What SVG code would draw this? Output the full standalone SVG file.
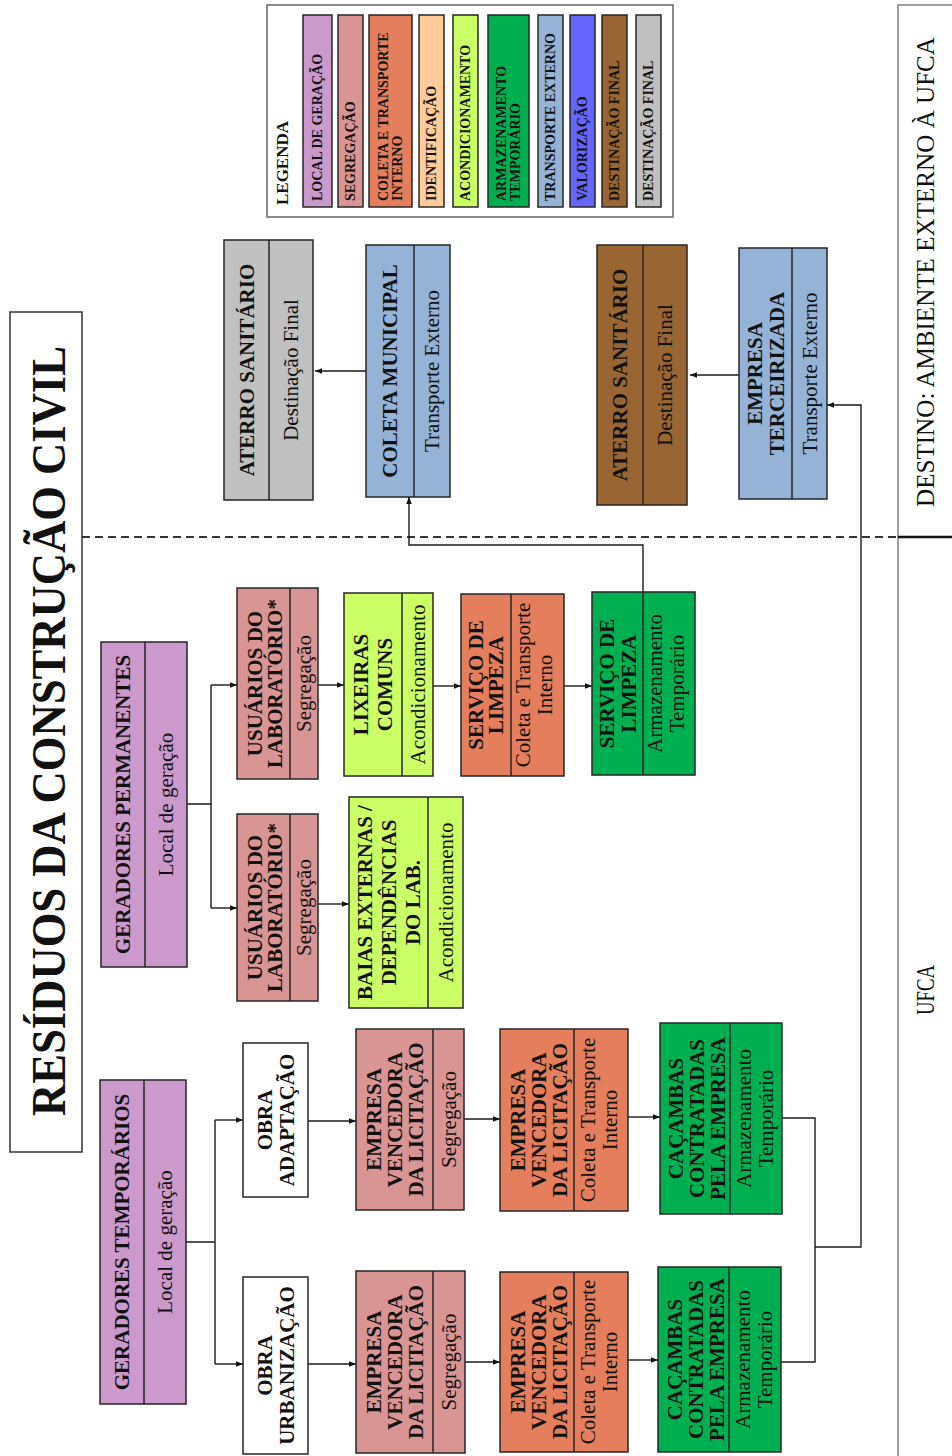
<svg xmlns="http://www.w3.org/2000/svg" width="952" height="1456" viewBox="0 0 952 1456">
<defs>
<style>
.n{stroke:#262626;stroke-width:1.5}
.d{stroke:#262626;stroke-width:1.5;fill:none}
.c{fill:none;stroke:#1a1a1a;stroke-width:1.4}
.b{font-family:"Liberation Serif","Times New Roman",serif;font-weight:bold;font-size:21px;text-anchor:middle;fill:#111}
.r{font-family:"Liberation Serif","Times New Roman",serif;font-size:21px;text-anchor:middle;fill:#111}
.lt{font-family:"Liberation Serif","Times New Roman",serif;font-weight:bold;font-size:14px;fill:#111}
.big{font-family:"Liberation Serif","Times New Roman",serif;font-weight:bold;font-size:48px;text-anchor:middle;fill:#111}
.zone{font-family:"Liberation Serif","Times New Roman",serif;font-size:26px;text-anchor:middle;fill:#111}
.leg{font-family:"Liberation Serif","Times New Roman",serif;font-weight:bold;font-size:17px;text-anchor:middle;fill:#111}
.f1{fill:#CC99CC}.f2{fill:#D99594}.f3{fill:#E47E5C}.f4{fill:#FFCC99}.f5{fill:#CCFF66}.f6{fill:#00B050}.f7{fill:#95B3D7}.f8{fill:#6666FF}.f9{fill:#996633}.f10{fill:#C0C0C0}.fw{fill:#fff}
</style>
<marker id="ah" viewBox="0 0 10 10" refX="10" refY="5" markerWidth="7" markerHeight="7" orient="auto" markerUnits="userSpaceOnUse"><path d="M0,1 L10,5 L0,9 z" fill="#111"/></marker>
</defs>
<rect x="0" y="0" width="952" height="1456" fill="#fff"/>

<g id="title">
<rect x="10" y="312" width="72" height="840" fill="#fff" stroke="#333" stroke-width="1.5"/>
<text class="big" transform="translate(65,731) rotate(-90)" textLength="770" lengthAdjust="spacingAndGlyphs">RESÍDUOS DA CONSTRUÇÃO CIVIL</text>
</g>

<g id="legend">
<rect x="267" y="5" width="406" height="212" fill="#fff" stroke="#666" stroke-width="1.5"/>
<text class="leg" transform="translate(288,163) rotate(-90)">LEGENDA</text>
<rect class="n f1" x="303" y="15" width="29" height="192"/>
<text class="lt" transform="translate(322,201) rotate(-90)">LOCAL DE GERAÇÃO</text>
<rect class="n f2" x="338" y="15" width="25" height="192"/>
<text class="lt" transform="translate(355,201) rotate(-90)">SEGREGAÇÃO</text>
<rect class="n f3" x="369" y="15" width="43" height="192"/>
<text class="lt" transform="translate(388,201) rotate(-90)"><tspan x="0" y="0">COLETA E TRANSPORTE</tspan><tspan x="0" y="14">INTERNO</tspan></text>
<rect class="n f4" x="419" y="15" width="25" height="192"/>
<text class="lt" transform="translate(436,201) rotate(-90)">IDENTIFICAÇÃO</text>
<rect class="n f5" x="453" y="15" width="25" height="192"/>
<text class="lt" transform="translate(470,201) rotate(-90)">ACONDICIONAMENTO</text>
<rect class="n f6" x="488" y="15" width="41" height="192"/>
<text class="lt" transform="translate(506,201) rotate(-90)"><tspan x="0" y="0">ARMAZENAMENTO</tspan><tspan x="0" y="14">TEMPORÁRIO</tspan></text>
<rect class="n f7" x="538" y="15" width="25" height="192"/>
<text class="lt" transform="translate(555,201) rotate(-90)">TRANSPORTE EXTERNO</text>
<rect class="n f8" x="570" y="15" width="25" height="192"/>
<text class="lt" transform="translate(587,201) rotate(-90)">VALORIZAÇÃO</text>
<rect class="n f9" x="602" y="15" width="25" height="192"/>
<text class="lt" transform="translate(619,201) rotate(-90)">DESTINAÇÃO FINAL</text>
<rect class="n f10" x="636" y="15" width="25" height="192"/>
<text class="lt" transform="translate(653,201) rotate(-90)">DESTINAÇÃO FINAL</text>
</g>

<g id="zones">
<line x1="82" y1="537" x2="898" y2="537" stroke="#333" stroke-width="2" stroke-dasharray="8,5"/>
<rect x="898" y="5" width="70" height="1470" fill="none" stroke="#808080" stroke-width="1.5"/>
<line x1="898" y1="537" x2="952" y2="537" stroke="#111" stroke-width="2.5"/>
<text class="zone" transform="translate(934,272) rotate(-90)" textLength="470" lengthAdjust="spacingAndGlyphs">DESTINO: AMBIENTE EXTERNO À UFCA</text>
<text class="zone" transform="translate(934,990) rotate(-90)" textLength="50" lengthAdjust="spacingAndGlyphs">UFCA</text>
</g>

<g id="connectors">
<path class="c" d="M186,1242 H215 M215,1120 V1364"/>
<path class="c" d="M215,1120 H243" marker-end="url(#ah)"/>
<path class="c" d="M215,1364 H243" marker-end="url(#ah)"/>
<path class="c" d="M187,804 H211 M211,685 V908"/>
<path class="c" d="M211,685 H237" marker-end="url(#ah)"/>
<path class="c" d="M211,908 H237" marker-end="url(#ah)"/>
<path class="c" d="M308,1121 H356" marker-end="url(#ah)"/>
<path class="c" d="M308,1364 H356" marker-end="url(#ah)"/>
<path class="c" d="M464,1119 H500" marker-end="url(#ah)"/>
<path class="c" d="M465,1362 H500" marker-end="url(#ah)"/>
<path class="c" d="M628,1117 H660" marker-end="url(#ah)"/>
<path class="c" d="M628,1360 H658" marker-end="url(#ah)"/>
<path class="c" d="M782,1118 H815 V1362 H781"/>
<path class="c" d="M815,1247 H861 V405 H827" marker-end="url(#ah)"/>
<path class="c" d="M318,685 H344" marker-end="url(#ah)"/>
<path class="c" d="M318,904 H349" marker-end="url(#ah)"/>
<path class="c" d="M433,686 H461" marker-end="url(#ah)"/>
<path class="c" d="M564,686 H592" marker-end="url(#ah)"/>
<path class="c" d="M643,592 V545 H409 V497" marker-end="url(#ah)"/>
<path class="c" d="M366,371 H315" marker-end="url(#ah)"/>
<path class="c" d="M739,375 H690" marker-end="url(#ah)"/>
</g>

<g id="gen_temp">
<rect class="n f1" x="100" y="1080" width="86" height="324"/>
<line class="d" x1="144" y1="1080" x2="144" y2="1404"/>
<text class="b" transform="translate(122,1242) rotate(-90)" y="7">GERADORES TEMPORÁRIOS</text>
<text class="r" transform="translate(165,1242) rotate(-90)" y="7">Local de geração</text>
</g>

<g id="gen_perm">
<rect class="n f1" x="101" y="642" width="86" height="325"/>
<line class="d" x1="145" y1="642" x2="145" y2="967"/>
<text class="b" transform="translate(123,804.5) rotate(-90)" y="7">GERADORES PERMANENTES</text>
<text class="r" transform="translate(166,804.5) rotate(-90)" y="7">Local de geração</text>
</g>

<g id="obra_urb">
<rect class="n fw" x="243" y="1277" width="65" height="177"/>
<text class="b" transform="translate(275.5,1365.5) rotate(-90)"><tspan x="0" y="-4">OBRA</tspan><tspan x="0" y="18">URBANIZAÇÃO</tspan></text>
</g>

<g id="obra_adapt">
<rect class="n fw" x="243" y="1043" width="65" height="154"/>
<text class="b" transform="translate(275.5,1120) rotate(-90)"><tspan x="0" y="-4">OBRA</tspan><tspan x="0" y="18">ADAPTAÇÃO</tspan></text>
</g>

<g id="seg_adapt">
<rect class="n f2" x="356" y="1029" width="108" height="181"/>
<line class="d" x1="433" y1="1029" x2="433" y2="1210"/>
<text class="b" transform="translate(394.5,1119.5) rotate(-90)"><tspan x="0" y="-14">EMPRESA</tspan><tspan x="0" y="7">VENCEDORA</tspan><tspan x="0" y="28">DA LICITAÇÃO</tspan></text>
<text class="r" transform="translate(448.5,1119.5) rotate(-90)" y="7">Segregação</text>
</g>

<g id="seg_urb">
<rect class="n f2" x="356" y="1271" width="109" height="182"/>
<line class="d" x1="433" y1="1271" x2="433" y2="1453"/>
<text class="b" transform="translate(394.5,1362) rotate(-90)"><tspan x="0" y="-14">EMPRESA</tspan><tspan x="0" y="7">VENCEDORA</tspan><tspan x="0" y="28">DA LICITAÇÃO</tspan></text>
<text class="r" transform="translate(449,1362) rotate(-90)" y="7">Segregação</text>
</g>

<g id="col_adapt">
<rect class="n f3" x="500" y="1029" width="128" height="182"/>
<line class="d" x1="574" y1="1029" x2="574" y2="1211"/>
<text class="b" transform="translate(539,1120) rotate(-90)"><tspan x="0" y="-14">EMPRESA</tspan><tspan x="0" y="7">VENCEDORA</tspan><tspan x="0" y="28">DA LICITAÇÃO</tspan></text>
<text class="r" transform="translate(599,1120) rotate(-90)"><tspan x="0" y="-4">Coleta e Transporte</tspan><tspan x="0" y="18">Interno</tspan></text>
</g>

<g id="col_urb">
<rect class="n f3" x="500" y="1272" width="128" height="180"/>
<line class="d" x1="574" y1="1272" x2="574" y2="1452"/>
<text class="b" transform="translate(539,1362) rotate(-90)"><tspan x="0" y="-14">EMPRESA</tspan><tspan x="0" y="7">VENCEDORA</tspan><tspan x="0" y="28">DA LICITAÇÃO</tspan></text>
<text class="r" transform="translate(599,1362) rotate(-90)"><tspan x="0" y="-4">Coleta e Transporte</tspan><tspan x="0" y="18">Interno</tspan></text>
</g>

<g id="arm_adapt">
<rect class="n f6" x="660" y="1023" width="122" height="191"/>
<line class="d" x1="730" y1="1023" x2="730" y2="1214"/>
<text class="b" transform="translate(697,1118.5) rotate(-90)"><tspan x="0" y="-14">CAÇAMBAS</tspan><tspan x="0" y="7">CONTRATADAS</tspan><tspan x="0" y="28">PELA EMPRESA</tspan></text>
<text class="r" transform="translate(755,1118.5) rotate(-90)"><tspan x="0" y="-4">Armazenamento</tspan><tspan x="0" y="18">Temporário</tspan></text>
</g>

<g id="arm_urb">
<rect class="n f6" x="658" y="1267" width="123" height="185"/>
<line class="d" x1="729" y1="1267" x2="729" y2="1452"/>
<text class="b" transform="translate(696,1359.5) rotate(-90)"><tspan x="0" y="-14">CAÇAMBAS</tspan><tspan x="0" y="7">CONTRATADAS</tspan><tspan x="0" y="28">PELA EMPRESA</tspan></text>
<text class="r" transform="translate(754,1359.5) rotate(-90)"><tspan x="0" y="-4">Armazenamento</tspan><tspan x="0" y="18">Temporário</tspan></text>
</g>

<g id="usu_1">
<rect class="n f2" x="237" y="588" width="81" height="191"/>
<line class="d" x1="290" y1="588" x2="290" y2="779"/>
<text class="b" transform="translate(265,683.5) rotate(-90)"><tspan x="0" y="-3">USUÁRIOS DO</tspan><tspan x="0" y="17">LABORATÓRIO*</tspan></text>
<text class="r" transform="translate(304,683.5) rotate(-90)" y="7">Segregação</text>
</g>

<g id="usu_2">
<rect class="n f2" x="237" y="814" width="81" height="187"/>
<line class="d" x1="290" y1="814" x2="290" y2="1001"/>
<text class="b" transform="translate(265,907.5) rotate(-90)"><tspan x="0" y="-3">USUÁRIOS DO</tspan><tspan x="0" y="17">LABORATÓRIO*</tspan></text>
<text class="r" transform="translate(304,907.5) rotate(-90)" y="7">Segregação</text>
</g>

<g id="lixeiras">
<rect class="n f5" x="344" y="593" width="89" height="183"/>
<line class="d" x1="402" y1="593" x2="402" y2="776"/>
<text class="b" transform="translate(373,684.5) rotate(-90)"><tspan x="0" y="-5">LIXEIRAS</tspan><tspan x="0" y="19">COMUNS</tspan></text>
<text class="r" transform="translate(417.5,684.5) rotate(-90)" y="7">Acondicionamento</text>
</g>

<g id="baias">
<rect class="n f5" x="349" y="797" width="114" height="211"/>
<line class="d" x1="428" y1="797" x2="428" y2="1008"/>
<text class="b" transform="translate(388.5,902.5) rotate(-90)"><tspan x="0" y="-17">BAIAS EXTERNAS /</tspan><tspan x="0" y="7">DEPENDÊNCIAS</tspan><tspan x="0" y="31">DO LAB.</tspan></text>
<text class="r" transform="translate(445.5,902.5) rotate(-90)" y="7">Acondicionamento</text>
</g>

<g id="serv_col">
<rect class="n f3" x="461" y="594" width="103" height="182"/>
<line class="d" x1="511" y1="594" x2="511" y2="776"/>
<text class="b" transform="translate(486,685) rotate(-90)"><tspan x="0" y="-3">SERVIÇO DE</tspan><tspan x="0" y="17">LIMPEZA</tspan></text>
<text class="r" transform="translate(534,685) rotate(-90)"><tspan x="0" y="-4">Coleta e Transporte</tspan><tspan x="0" y="18">Interno</tspan></text>
</g>

<g id="serv_arm">
<rect class="n f6" x="592" y="592" width="103" height="183"/>
<line class="d" x1="643" y1="592" x2="643" y2="775"/>
<text class="b" transform="translate(618,683.5) rotate(-90)"><tspan x="0" y="-4">SERVIÇO DE</tspan><tspan x="0" y="18">LIMPEZA</tspan></text>
<text class="r" transform="translate(666,683.5) rotate(-90)"><tspan x="0" y="-4">Armazenamento</tspan><tspan x="0" y="18">Temporário</tspan></text>
</g>

<g id="aterro_1">
<rect class="n f10" x="224" y="240" width="89" height="260"/>
<line class="d" x1="269" y1="240" x2="269" y2="500"/>
<text class="b" transform="translate(247,370) rotate(-90)" y="7">ATERRO SANITÁRIO</text>
<text class="r" transform="translate(291,370) rotate(-90)" y="7">Destinação Final</text>
</g>

<g id="coleta_municipal">
<rect class="n f7" x="366" y="245" width="84" height="252"/>
<line class="d" x1="414" y1="245" x2="414" y2="497"/>
<text class="b" transform="translate(390,371) rotate(-90)" y="7">COLETA MUNICIPAL</text>
<text class="r" transform="translate(432,371) rotate(-90)" y="7">Transporte Externo</text>
</g>

<g id="aterro_2">
<rect class="n f9" x="597" y="245" width="90" height="260"/>
<line class="d" x1="643" y1="245" x2="643" y2="505"/>
<text class="b" transform="translate(620,375) rotate(-90)" y="7">ATERRO SANITÁRIO</text>
<text class="r" transform="translate(665,375) rotate(-90)" y="7">Destinação Final</text>
</g>

<g id="empresa_terc">
<rect class="n f7" x="739" y="248" width="88" height="251"/>
<line class="d" x1="792" y1="248" x2="792" y2="499"/>
<text class="b" transform="translate(765.5,373.5) rotate(-90)"><tspan x="0" y="-4">EMPRESA</tspan><tspan x="0" y="18">TERCEIRIZADA</tspan></text>
<text class="r" transform="translate(809.5,373.5) rotate(-90)" y="7">Transporte Externo</text>
</g>
</svg>
